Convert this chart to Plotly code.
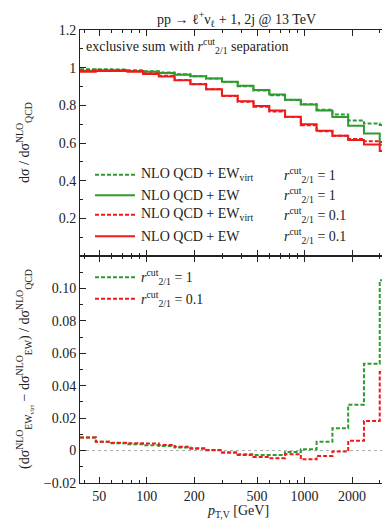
import math
import plotly.graph_objects as go

# ---------------- data ----------------
# bin edges in p_T,V [GeV] (10 bins per decade)
bin_edges = [37.7, 47.5, 59.7, 75.2, 94.6, 119.1, 150.0, 188.8, 237.7, 299.2,
             376.7, 474.2, 597.0, 751.6, 946.2, 1191.0, 1500.0, 1888.4, 2377.4, 2993.0, 3767.9]

# upper panel: d sigma / d sigma_QCD^NLO
green_virt = [0.992, 0.991, 0.990, 0.986, 0.981, 0.975, 0.965, 0.955, 0.942, 0.924,
              0.902, 0.879, 0.854, 0.829, 0.806, 0.777, 0.752, 0.720, 0.703, 0.696]
green_ew = [0.984, 0.986, 0.986, 0.982, 0.978, 0.972, 0.963, 0.954, 0.942, 0.925,
            0.904, 0.882, 0.857, 0.830, 0.805, 0.772, 0.738, 0.692, 0.650, 0.591]
red_virt = [0.986, 0.987, 0.987, 0.982, 0.970, 0.957, 0.935, 0.913, 0.885, 0.850,
            0.819, 0.793, 0.768, 0.738, 0.695, 0.662, 0.638, 0.622, 0.610, 0.606]
red_ew = [0.978, 0.982, 0.982, 0.978, 0.966, 0.953, 0.933, 0.912, 0.885, 0.851,
          0.822, 0.797, 0.773, 0.740, 0.700, 0.665, 0.639, 0.616, 0.592, 0.558]

# lower panel: (d sigma_EWvirt - d sigma_EW) / d sigma_QCD
green_diff = [0.0080, 0.0054, 0.0045, 0.0039, 0.0033, 0.0029, 0.0019, 0.0012, 0.0002, -0.0012,
              -0.0023, -0.0027, -0.0027, -0.0008, 0.0008, 0.0054, 0.0138, 0.0283, 0.0535, 0.1050]
red_diff = [0.0080, 0.0054, 0.0049, 0.0045, 0.0043, 0.0035, 0.0023, 0.0014, 0.0004, -0.0012,
            -0.0027, -0.0039, -0.0047, -0.0023, -0.0054, -0.0033, -0.0006, 0.0060, 0.0183, 0.0485]

x_major = [50, 100, 200, 500, 1000, 2000]
x_major_text = ["50", "100", "200", "500", "1000", "2000"]
x_minor = [40, 60, 70, 80, 90, 300, 400, 600, 700, 800, 900, 3000]
y1_ticks = [0.2, 0.4, 0.6, 0.8, 1.0, 1.2]
y1_text = ["0.2", "0.4", "0.6", "0.8", "1", "1.2"]
y2_ticks = [-0.02, 0.0, 0.02, 0.04, 0.06, 0.08, 0.10]
y2_text = ["\u22120.02", "0", "0.02", "0.04", "0.06", "0.08", "0.10"]

GREEN = "#2f9a2f"
RED = "#f01a1a"
FONT = "Liberation Serif"
DASH = "4px,2px"
RCUT = "<i>r</i><sup>cut</sup><sub>2/1</sub>"


def steps(vals):
    return bin_edges, list(vals) + [vals[-1]]


fig = go.Figure()

# upper panel
for vals, col, dash in [(green_ew, GREEN, "solid"), (green_virt, GREEN, DASH),
                        (red_ew, RED, "solid"), (red_virt, RED, DASH)]:
    xs, ys = steps(vals)
    fig.add_trace(go.Scatter(x=xs, y=ys, mode="lines", line_shape="hv",
                             line=dict(color=col, width=2, dash=dash),
                             xaxis="x", yaxis="y", showlegend=False, hoverinfo="skip"))

# lower panel
for vals, col in [(green_diff, GREEN), (red_diff, RED)]:
    xs, ys = steps(vals)
    fig.add_trace(go.Scatter(x=xs, y=ys, mode="lines", line_shape="hv",
                             line=dict(color=col, width=2, dash=DASH),
                             xaxis="x2", yaxis="y2", showlegend=False, hoverinfo="skip"))

xrange = [math.log10(37.7), math.log10(3795)]
common_x = dict(type="log", range=xrange, tickvals=x_major, ticktext=x_major_text,
                ticks="inside", ticklen=6, tickwidth=1, tickcolor="#222",
                minor=dict(tickvals=x_minor, ticks="inside", ticklen=3, tickwidth=1, tickcolor="#222"),
                showline=True, linecolor="#222", linewidth=1, mirror="allticks",
                showgrid=False, zeroline=False)
common_y = dict(ticks="inside", ticklen=6, tickwidth=1, tickcolor="#222",
                showline=True, linecolor="#222", linewidth=1, mirror="allticks",
                showgrid=False, zeroline=False)

split = 0.501
fig.update_layout(
    width=390, height=521,
    margin=dict(l=72, r=2, t=22, b=46),
    paper_bgcolor="white", plot_bgcolor="white",
    font=dict(family=FONT, size=14, color="#222"),
    xaxis=dict(common_x, domain=[0, 1], anchor="y", showticklabels=False),
    yaxis=dict(common_y, domain=[split, 1], range=[0, 1.2], tickvals=y1_ticks, ticktext=y1_text,
               minor=dict(dtick=0.1, tick0=0, ticks="inside", ticklen=3, tickwidth=1, tickcolor="#222")),
    xaxis2=dict(common_x, domain=[0, 1], anchor="y2", showticklabels=True),
    yaxis2=dict(common_y, domain=[0, split], range=[-0.02, 0.12], tickvals=y2_ticks, ticktext=y2_text,
                minor=dict(dtick=0.01, tick0=0, ticks="inside", ticklen=3, tickwidth=1, tickcolor="#222")),
)

# zero line in lower panel
fig.add_shape(type="line", xref="x2 domain", yref="y2", x0=0, x1=1, y0=0, y1=0,
              line=dict(color="#aaaaaa", width=1, dash="dot"), layer="below")

PH = 453.0  # plot-area height in px


def py(ypx):
    return (475 - ypx) / PH


def px(xpx):
    return (xpx - 72) / 316.0


ann = []
ann.append(dict(text="pp \u2192 \u2113<sup>+</sup>\u03bd<sub>\u2113</sub> + 1, 2j @ 13 TeV",
                x=px(228), y=py(11), xanchor="center", yanchor="middle", font=dict(size=14)))
ann.append(dict(text="exclusive sum with " + RCUT + " separation",
                x=px(76), y=py(38), xanchor="left", yanchor="middle", font=dict(size=14)))

legend_rows = [
    (166.7, GREEN, DASH, "NLO QCD + EW<sub>virt</sub>", RCUT + " = 1"),
    (187.3, GREEN, "solid", "NLO QCD + EW", RCUT + " = 1"),
    (206.7, RED, DASH, "NLO QCD + EW<sub>virt</sub>", RCUT + " = 0.1"),
    (228.3, RED, "solid", "NLO QCD + EW", RCUT + " = 0.1"),
]
for ypx, col, dash, t1, t2 in legend_rows:
    fig.add_shape(type="line", xref="paper", yref="paper", x0=px(87), x1=px(127),
                  y0=py(ypx), y1=py(ypx), line=dict(color=col, width=2, dash=dash))
    ann.append(dict(text=t1, x=px(131), y=py(ypx), xanchor="left", yanchor="middle"))
    ann.append(dict(text=t2, x=px(274), y=py(ypx), xanchor="left", yanchor="middle"))

for ypx, col, t in [(269.3, GREEN, RCUT + " = 1"), (290.7, RED, RCUT + " = 0.1")]:
    fig.add_shape(type="line", xref="paper", yref="paper", x0=px(87), x1=px(127),
                  y0=py(ypx), y1=py(ypx), line=dict(color=col, width=2, dash=DASH))
    ann.append(dict(text=t, x=px(131), y=py(ypx), xanchor="left", yanchor="middle"))

# axis titles
ann.append(dict(text="d\u03c3 / d\u03c3<sup>NLO</sup><sub>QCD</sub>", x=px(16), y=py(135),
                xanchor="center", yanchor="middle", textangle=-90))
ann.append(dict(text="(d\u03c3<sup>NLO</sup><sub>EW<sub>virt</sub></sub> \u2212 d\u03c3<sup>NLO</sup><sub>EW</sub>) / d\u03c3<sup>NLO</sup><sub>QCD</sub>",
                x=px(16), y=py(361), xanchor="center", yanchor="middle", textangle=-90))
ann.append(dict(text="<i>p</i><sub>T,V</sub> [GeV]", x=px(230), y=py(503),
                xanchor="center", yanchor="middle"))

for a in ann:
    a.setdefault("xref", "paper")
    a.setdefault("yref", "paper")
    a.setdefault("showarrow", False)
    fig.add_annotation(**a)

fig.write_html("out.html")
